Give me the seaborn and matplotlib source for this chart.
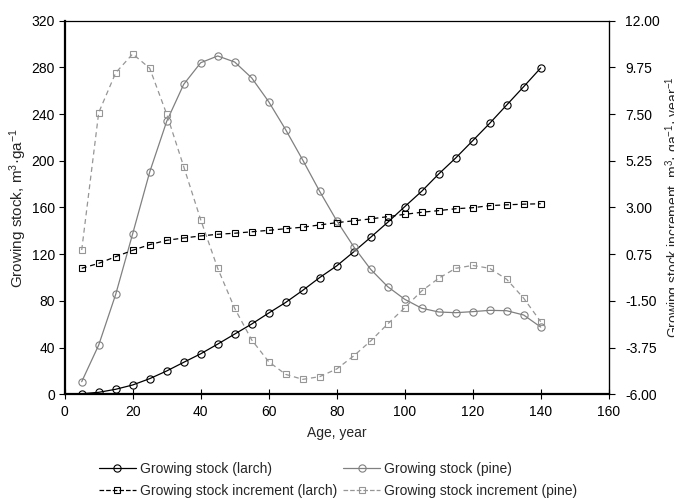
import pandas as pd
import seaborn as sns
import matplotlib.pyplot as plt
from matplotlib.lines import Line2D
from matplotlib.ticker import FormatStrFormatter

# Data (age step 5 years)
age = [5, 10, 15, 20, 25, 30, 35, 40, 45, 50, 55, 60, 65, 70,
       75, 80, 85, 90, 95, 100, 105, 110, 115, 120, 125, 130, 135, 140]

stock_larch = [0.5, 1.7, 4.3, 8.0, 13.4, 20.0, 27.4, 34.7, 43.0, 51.6, 60.2, 69.6, 78.7, 89.0,
               100.0, 110.0, 122.0, 134.5, 147.3, 160.7, 173.9, 188.7, 202.4, 217.2, 232.1, 247.8, 263.5, 279.5]
stock_pine = [10.8, 42.2, 85.6, 137.6, 190.4, 233.8, 265.5, 284.0, 289.8, 284.6, 271.0, 250.6, 226.6, 200.7,
              173.8, 148.7, 126.4, 107.0, 92.2, 81.4, 73.7, 70.5, 69.9, 70.8, 71.9, 71.6, 67.9, 57.6]
incr_larch = [0.07, 0.31, 0.63, 0.94, 1.21, 1.42, 1.53, 1.63, 1.71, 1.76, 1.83, 1.90, 1.98, 2.05,
              2.16, 2.27, 2.36, 2.45, 2.56, 2.67, 2.77, 2.85, 2.94, 2.99, 3.09, 3.13, 3.16, 3.18]
incr_pine = [0.95, 7.57, 9.49, 10.40, 9.71, 7.50, 4.97, 2.41, 0.07, -1.86, -3.38, -4.43, -5.04, -5.28,
             -5.15, -4.78, -4.15, -3.43, -2.61, -1.83, -1.02, -0.41, 0.07, 0.21, 0.07, -0.46, -1.37, -2.50]

x_ticks = [0, 20, 40, 60, 80, 100, 120, 140, 160]
left_ticks = [0, 40, 80, 120, 160, 200, 240, 280, 320]
right_ticks = [-6.00, -3.75, -1.50, 0.75, 3.00, 5.25, 7.50, 9.75, 12.00]

labels = ["Growing stock (larch)", "Growing stock (pine)",
          "Growing stock increment (larch)", "Growing stock increment (pine)"]

df = pd.DataFrame({"age": age, "stock_larch": stock_larch, "stock_pine": stock_pine,
                   "incr_larch": incr_larch, "incr_pine": incr_pine})

sns.set_style("ticks")
plt.rcParams['font.family'] = ['Liberation Sans', 'DejaVu Sans']
plt.rcParams['mathtext.fontset'] = 'custom'
plt.rcParams['mathtext.rm'] = 'Liberation Sans'
plt.rcParams['mathtext.default'] = 'regular'
plt.rcParams['axes.unicode_minus'] = False

fig = plt.figure(figsize=(6.74, 5), dpi=100)
ax = fig.add_axes([0.096, 0.2114, 0.8071, 0.7472])
ax2 = ax.twinx()

black = "#000000"
grey = "#808080"
grey_light = "#969696"
dash = (0, (4, 3))

common = dict(markerfacecolor="none", markeredgewidth=0.8, linewidth=0.9, legend=False)

sns.lineplot(data=df, x="age", y="stock_larch", ax=ax, color=black, marker="o",
             markersize=5.2, markeredgecolor=black, **common)
sns.lineplot(data=df, x="age", y="stock_pine", ax=ax, color=grey, marker="o",
             markersize=5.2, markeredgecolor=grey, **common)
sns.lineplot(data=df, x="age", y="incr_larch", ax=ax2, color=black, marker="s",
             markersize=4.6, markeredgecolor=black, linestyle=dash, **common)
sns.lineplot(data=df, x="age", y="incr_pine", ax=ax2, color=grey_light, marker="s",
             markersize=4.6, markeredgecolor=grey_light, linestyle=dash, **common)

# axes ranges and ticks
ax.set_xlim(0, 160)
ax.set_ylim(0, 320)
ax2.set_ylim(-6, 12)
ax.set_xticks(x_ticks)
ax.set_yticks(left_ticks)
ax2.set_yticks(right_ticks)
ax2.yaxis.set_major_formatter(FormatStrFormatter('%.2f'))

ax.tick_params(axis="y", direction="out", length=4, width=0.8, labelsize=10, pad=3, colors="black")
ax.tick_params(axis="x", direction="inout", length=7, width=0.8, labelsize=10, pad=4, colors="black")
ax2.tick_params(axis="y", direction="out", length=4, width=0.8, labelsize=10, pad=8, colors="black")

for name in ["left", "bottom"]:
    ax.spines[name].set_linewidth(1.6)
ax.spines["top"].set_linewidth(0.9)
for name in ["left", "bottom", "top"]:
    ax2.spines[name].set_visible(False)
ax2.spines["right"].set_linewidth(0.9)
for s in list(ax.spines.values()) + list(ax2.spines.values()):
    s.set_color("black")

ax.set_xlabel("Age, year", fontsize=10)
ax.set_ylabel("Growing stock, m$^{3}$·ga$^{-1}$", fontsize=11)
ax2.set_ylabel("Growing stock increment, m$^{3}$· ga$^{-1}$· year$^{-1}$", fontsize=10)
ax.xaxis.set_label_coords(0.5, -0.085)
ax.yaxis.set_label_coords(-0.066, 0.5)
ax2.yaxis.set_label_coords(1.100, 0.5)

# legend below, two columns
lines = ax.get_lines()[:2] + ax2.get_lines()[:2]
handles = [Line2D([], [], color=l.get_color(), linestyle=l.get_linestyle(), linewidth=0.9,
                  marker=l.get_marker(), markersize=l.get_markersize(), markerfacecolor="none",
                  markeredgecolor=l.get_markeredgecolor(), markeredgewidth=0.8) for l in lines]
order = [0, 2, 1, 3]
fig.legend([handles[i] for i in order], [labels[i] for i in order], ncol=2,
           loc="upper left", bbox_to_anchor=(99 / 674, 1 - 462 / 500),
           frameon=False, fontsize=10, handlelength=2.65, handletextpad=0.3,
           columnspacing=0.45, labelspacing=0.6, borderpad=0, borderaxespad=0)

fig.savefig("out.png", dpi=100, facecolor="white")
